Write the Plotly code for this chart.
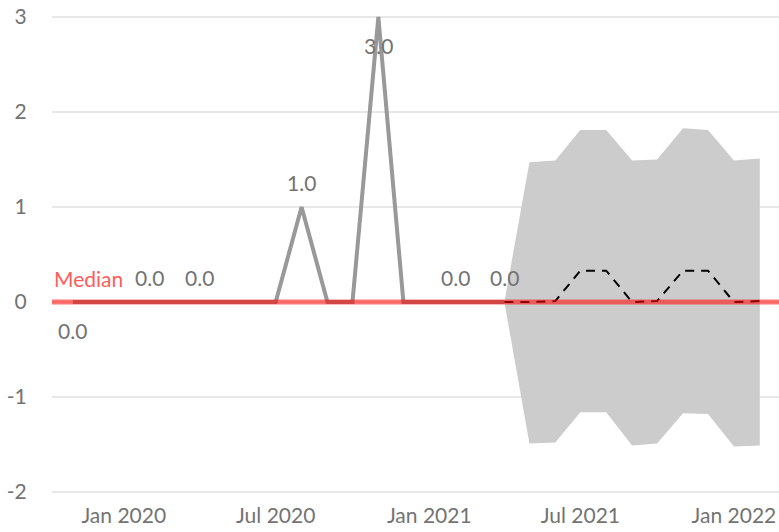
import numpy as np
import plotly.graph_objects as go

# Observed monthly counts
actual_dates = [
    "2019-11-01", "2019-12-01", "2020-01-01", "2020-02-01", "2020-03-01",
    "2020-04-01", "2020-05-01", "2020-06-01", "2020-07-01", "2020-08-01",
    "2020-09-01", "2020-10-01", "2020-11-01", "2020-12-01", "2021-01-01",
    "2021-02-01", "2021-03-01", "2021-04-01",
]
actual_values = [0, 0, 0, 0, 0, 0, 0, 0, 0, 1, 0, 0, 3, 0, 0, 0, 0, 0]
# Which points carry a value label, and where it sits
label_shown = [1, 0, 0, 1, 0, 1, 0, 0, 0, 1, 0, 0, 1, 0, 0, 1, 0, 1]
label_below = [1, 0, 0, 0, 0, 0, 0, 0, 0, 0, 0, 0, 1, 0, 0, 0, 0, 0]

# Forecast with prediction interval
forecast_dates = [
    "2021-04-01", "2021-05-01", "2021-06-01", "2021-07-01", "2021-08-01",
    "2021-09-01", "2021-10-01", "2021-11-01", "2021-12-01", "2022-01-01",
    "2022-02-01",
]
forecast_values = [0.0, 0.0, 0.01, 0.33, 0.33, 0.0, 0.01, 0.33, 0.33, 0.0, 0.01]
forecast_upper = [0.0, 1.47, 1.49, 1.81, 1.81, 1.49, 1.50, 1.83, 1.81, 1.49, 1.51]
forecast_lower = [0.0, -1.49, -1.48, -1.16, -1.16, -1.51, -1.49, -1.17, -1.18, -1.52, -1.51]

y_ticks = [-2, -1, 0, 1, 2, 3]
y_tick_text = ["-2", "-1", "0", "1", "2", "3"]

FONT = "Lato"
TEXT_GRAY = "#737373"
SIZE = 21
median_value = float(np.median(actual_values))

fig = go.Figure()

fig.add_trace(go.Scatter(
    x=actual_dates, y=actual_values,
    mode="lines",
    line=dict(color="#999999", width=4),
    hoverinfo="skip", showlegend=False,
))

# Prediction band
fig.add_trace(go.Scatter(
    x=forecast_dates, y=forecast_upper, mode="lines",
    line=dict(width=0, color="#cccccc"),
    hoverinfo="skip", showlegend=False,
))
fig.add_trace(go.Scatter(
    x=forecast_dates, y=forecast_lower, mode="lines",
    line=dict(width=0, color="#cccccc"),
    fill="tonexty", fillcolor="#cccccc",
    hoverinfo="skip", showlegend=False,
))

# Forecast line
fig.add_trace(go.Scatter(
    x=forecast_dates, y=forecast_values, mode="lines",
    line=dict(color="black", width=2, dash="9px,7px"),
    hoverinfo="skip", showlegend=False,
))

# Value labels offset from their points
for d, v, shown, below in zip(actual_dates, actual_values, label_shown, label_below):
    if not shown:
        continue
    fig.add_annotation(
        x=d, y=v, xref="x", yref="y",
        text=f"{v:.1f}", showarrow=False,
        yshift=-28 if below else 25,
        font=dict(family=FONT, size=SIZE, color=TEXT_GRAY),
    )

# Median reference line across the full plot width
fig.add_shape(
    type="line", xref="paper", x0=0, x1=1, yref="y",
    y0=median_value, y1=median_value,
    line=dict(color="rgba(255,0,0,0.55)", width=5),
    layer="above",
)
fig.add_annotation(
    xref="paper", x=0, yref="y", y=median_value,
    text="Median", showarrow=False,
    xanchor="left", yanchor="middle", yshift=24,
    font=dict(family=FONT, size=SIZE, color="#ff5c5c"),
)

fig.update_layout(
    width=779, height=532,
    margin=dict(l=52, r=0, t=8, b=36),
    paper_bgcolor="white", plot_bgcolor="white",
    font=dict(family=FONT, size=SIZE, color=TEXT_GRAY),
    xaxis=dict(
        range=["2019-10-07", "2022-02-24"],
        tickformat="%b %Y", dtick="M6", tick0="2020-01-01",
        showgrid=False, zeroline=False, showline=False,
        ticks="outside", ticklen=1, tickcolor="rgba(0,0,0,0)",
        tickfont=dict(family=FONT, size=SIZE, color=TEXT_GRAY),
    ),
    yaxis=dict(
        range=[-2.042, 3.095],
        tickvals=y_ticks, ticktext=y_tick_text,
        showgrid=True, gridcolor="#e8e8e8", gridwidth=2,
        zeroline=False, showline=False,
        ticks="outside", ticklen=20, tickcolor="rgba(0,0,0,0)",
        tickfont=dict(family=FONT, size=SIZE, color=TEXT_GRAY),
    ),
)

fig.write_html("out.html")
